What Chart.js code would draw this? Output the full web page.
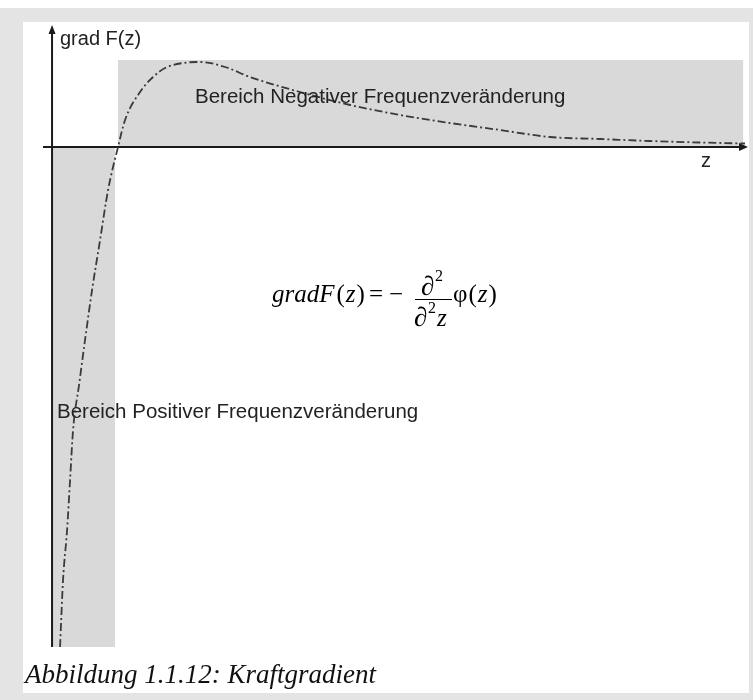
<!DOCTYPE html>
<html>
<head>
<meta charset="utf-8">
<script src="https://cdn.jsdelivr.net/npm/chart.js@4"></script>
<style>
  body { margin: 0; background: #fff; }
  #frame { position: absolute; left: 0; top: 8px; width: 753px; height: 692px; background: #e4e4e4; }
  #panel { position: absolute; left: 23px; top: 22px; width: 726px; height: 671px; background: #fff; }
  #wrap { position: absolute; left: 0; top: 0; width: 753px; height: 700px; }
</style>
</head>
<body>
<div id="frame"></div>
<div id="panel"></div>
<div id="wrap"><canvas id="forceChart" width="753" height="700"></canvas></div>
<script>
// Abstand z (willkuerliche Einheiten) und Kraftgradient grad F(z)
const zValues = [0.115, 0.158, 0.216, 0.259, 0.302, 0.388, 0.474, 0.575, 0.690, 0.805, 0.948,
                 1.049, 1.264, 1.451, 1.624, 1.882, 2.126, 2.486, 2.845, 3.563, 4.282, 5.0,
                 5.718, 6.437, 7.155, 7.874, 8.592, 9.310, 9.957];
const gradValues = [-50, -43.3, -38.3, -33.3, -28.3, -23.8, -19.3, -14.3, -9.3, -4.3, 0,
                    2.7, 5.5, 7.0, 7.9, 8.4, 8.5, 8.0, 7.0, 5.5, 4.2, 3.2,
                    2.4, 1.7, 1.0, 0.8, 0.6, 0.45, 0.35];

// Bereiche: [z von, z bis, F von, F bis]
const negativeZone = [0.948, 9.93, 0, 8.7];
const positiveZone = [0, 0.905, -50, 0];

const zRange = [-0.13, 10];
const gradRange = [-50, 12.2];

const labels = {
  yAxis: "grad F(z)",
  xAxis: "z",
  negative: "Bereich Negativer Frequenzveränderung",
  positive: "Bereich Positiver Frequenzveränderung",
  caption: "Abbildung 1.1.12: Kraftgradient"
};

function zone(ctx, x, y, r) {
  let x0 = x.getPixelForValue(r[0]), x1 = x.getPixelForValue(r[1]);
  let y0 = y.getPixelForValue(r[2]), y1 = y.getPixelForValue(r[3]);
  ctx.fillRect(x0, y1, x1 - x0, y0 - y1);
}

const decor = {
  id: "decor",
  beforeDatasetsDraw(chart) {
    let ctx = chart.ctx, x = chart.scales.x, y = chart.scales.y;
    ctx.save();
    ctx.fillStyle = "#d9d9d9";
    zone(ctx, x, y, negativeZone);
    zone(ctx, x, y, positiveZone);

    // Achsen
    let x0 = x.getPixelForValue(0), y0 = y.getPixelForValue(0);
    ctx.strokeStyle = "#1a1a1a";
    ctx.fillStyle = "#1a1a1a";
    ctx.lineWidth = 2;
    ctx.beginPath();
    ctx.moveTo(x.left, y0);
    ctx.lineTo(x.right - 4, y0);
    ctx.moveTo(x0, y.bottom);
    ctx.lineTo(x0, y.top + 4);
    ctx.stroke();
    ctx.beginPath();
    ctx.moveTo(x.right, y0);
    ctx.lineTo(x.right - 9, y0 - 4);
    ctx.lineTo(x.right - 9, y0 + 4);
    ctx.closePath();
    ctx.moveTo(x0, y.top);
    ctx.lineTo(x0 - 3.5, y.top + 9);
    ctx.lineTo(x0 + 3.5, y.top + 9);
    ctx.closePath();
    ctx.fill();
    ctx.restore();
  },
  afterDatasetsDraw(chart) {
    let ctx = chart.ctx;
    ctx.save();
    ctx.fillStyle = "#222";
    ctx.textBaseline = "alphabetic";
    ctx.font = "20px 'Liberation Sans', Arial, sans-serif";
    ctx.fillText(labels.yAxis, 60, 45);
    ctx.fillText(labels.xAxis, 701, 167);
    ctx.font = "20.5px 'Liberation Sans', Arial, sans-serif";
    ctx.fillText(labels.negative, 195, 103);
    ctx.fillText(labels.positive, 57, 418);

    // Formel
    ctx.fillStyle = "#000";
    let serif = "'Liberation Serif', 'Times New Roman', serif";
    let it = "italic 25px " + serif, up = "25px " + serif, small = "16px " + serif;
    let px = 272, base = 302;
    function put(txt, font, dx, dy) {
      ctx.font = font;
      ctx.fillText(txt, px + (dx || 0), base + (dy || 0));
      px += ctx.measureText(txt).width + (dx || 0);
    }
    put("gradF", it);
    put("(", up, 2);
    put("z", it, 1);
    put(")", up, 1);
    put("=", up, 4);
    put("\u2212", up, 6);
    let fx0 = 415, fx1 = 452;
    ctx.strokeStyle = "#000";
    ctx.lineWidth = 1;
    ctx.beginPath();
    ctx.moveTo(fx0, 299.5);
    ctx.lineTo(fx1, 299.5);
    ctx.stroke();
    let big = "27px " + serif;
    ctx.font = big;
    ctx.fillText("\u2202", 421, 295);
    ctx.font = small;
    ctx.fillText("2", 435, 281);
    ctx.font = big;
    ctx.fillText("\u2202", 414, 326);
    ctx.font = small;
    ctx.fillText("2", 428, 313);
    ctx.font = it;
    ctx.fillText("z", 437, 326);
    px = 453;
    put("\u03c6", up);
    put("(", up, 1);
    put("z", it, 1);
    put(")", up, 1);

    // Bildunterschrift
    ctx.fillStyle = "#111";
    ctx.font = "italic 27px " + serif;
    ctx.fillText(labels.caption, 25, 683);
    ctx.restore();
  }
};

document.addEventListener("DOMContentLoaded", () => {
  let ctx = document.getElementById("forceChart").getContext("2d");
  new Chart(ctx, {
    type: "line",
    data: {
      datasets: [{
        data: zValues.map((z, i) => ({ x: z, y: gradValues[i] })),
        borderColor: "#3a3a3a",
        borderWidth: 1.8,
        borderDash: [8, 3, 2, 3],
        pointRadius: 0,
        cubicInterpolationMode: "monotone",
        fill: false
      }]
    },
    options: {
      responsive: false,
      animation: false,
      layout: { padding: { left: 43, right: 5, top: 25, bottom: 53 } },
      plugins: { legend: { display: false }, tooltip: { enabled: false } },
      scales: {
        x: { type: "linear", min: zRange[0], max: zRange[1], display: false },
        y: { type: "linear", min: gradRange[0], max: gradRange[1], display: false }
      }
    },
    plugins: [decor]
  });
});
</script>
</body>
</html>
